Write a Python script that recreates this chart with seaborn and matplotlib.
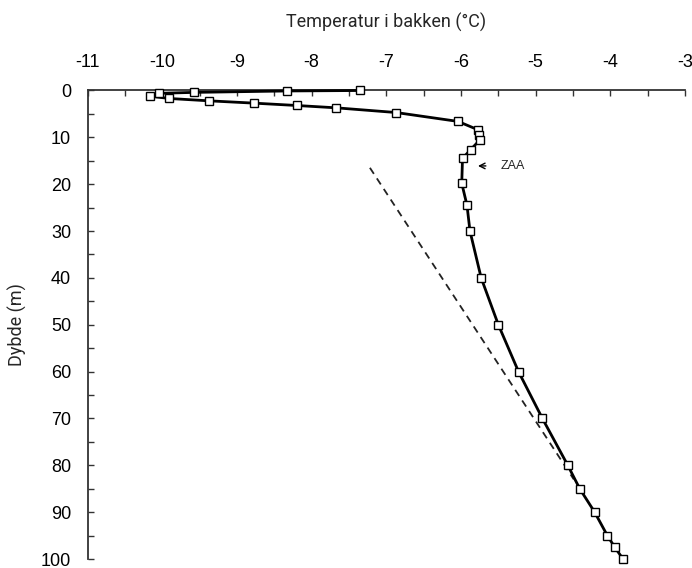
import matplotlib
matplotlib.use("Agg")
import matplotlib.pyplot as plt
import seaborn as sns
import pandas as pd
from matplotlib.ticker import MultipleLocator

# Data
temperature = [-7.35, -8.33, -9.57, -10.04, -10.17, -9.91, -9.38, -8.77, -8.20, -7.67,
               -6.87, -6.04, -5.77, -5.76, -5.75, -5.87, -5.98, -5.99, -5.92, -5.88,
               -5.73, -5.50, -5.23, -4.91, -4.57, -4.41, -4.21, -4.04, -3.94, -3.83]
depth = [0.0, 0.1, 0.4, 0.6, 1.2, 1.7, 2.2, 2.7, 3.2, 3.7,
         4.7, 6.6, 8.4, 9.6, 10.6, 12.6, 14.5, 19.8, 24.5, 30.0,
         40.0, 50.0, 60.0, 70.0, 80.0, 85.0, 90.0, 95.0, 97.5, 100.0]
trend_temperature = [-7.22, -4.49]
trend_depth = [16.5, 83.0]
x_ticks = [-11, -10, -9, -8, -7, -6, -5, -4, -3]
y_ticks = [0, 10, 20, 30, 40, 50, 60, 70, 80, 90, 100]
zaa_label = "ZAA"
zaa_depth = 16.1

sns.set_style("white")
plt.rcParams['font.family'] = ['Liberation Sans', 'DejaVu Sans']
plt.rcParams['axes.unicode_minus'] = False

df = pd.DataFrame({"temp": temperature, "depth": depth})
df_trend = pd.DataFrame({"temp": trend_temperature, "depth": trend_depth})

W, H = 692, 568
fig = plt.figure(figsize=(W / 100, H / 100), dpi=100)
left, right, top, bottom = 87.7, 685, 90.5, 559
ax = fig.add_axes([left / W, 1 - bottom / H, (right - left) / W, (bottom - top) / H])

sns.lineplot(data=df_trend, x="temp", y="depth", sort=False, estimator=None, ax=ax,
             color="#222222", lw=1.3, linestyle=(0, (4, 3)))
sns.lineplot(data=df, x="temp", y="depth", sort=False, estimator=None, ax=ax,
             color="black", lw=2.0, marker="s", markersize=6,
             markerfacecolor="white", markeredgecolor="black", markeredgewidth=1.0,
             clip_on=False, zorder=5)

ax.set_xlim(-11, -3)
ax.set_ylim(100, 0)
ax.xaxis.tick_top()
ax.xaxis.set_label_position('top')
ax.set_xticks(x_ticks)
ax.set_yticks(y_ticks)
ax.xaxis.set_minor_locator(MultipleLocator(0.5))
ax.yaxis.set_minor_locator(MultipleLocator(5))
ax.tick_params(axis='both', which='both', direction='in', length=4, width=1,
               color='#333333', labelsize=13, labelcolor='black')
ax.tick_params(axis='x', which='both', top=True, bottom=False, pad=14)
ax.tick_params(axis='y', which='both', left=True, right=False, pad=12)

for s in ['right', 'bottom']:
    ax.spines[s].set_visible(False)
for s in ['left', 'top']:
    ax.spines[s].set_color('#333333')
    ax.spines[s].set_linewidth(1.3)

cond = ['Roboto', 'DejaVu Sans']
ax.set_xlabel("Temperatur i bakken (°C)", fontsize=13, family=cond, labelpad=19)
ax.set_ylabel("Dybde (m)", fontsize=13, family=cond, labelpad=10)

ax.annotate("", xy=(-5.81, zaa_depth), xytext=(-5.63, zaa_depth),
            arrowprops=dict(arrowstyle="->", lw=1.0, color="black"))
ax.text(-5.47, zaa_depth, zaa_label, fontsize=9, va='center', ha='left')

fig.savefig("out.png", dpi=100)
